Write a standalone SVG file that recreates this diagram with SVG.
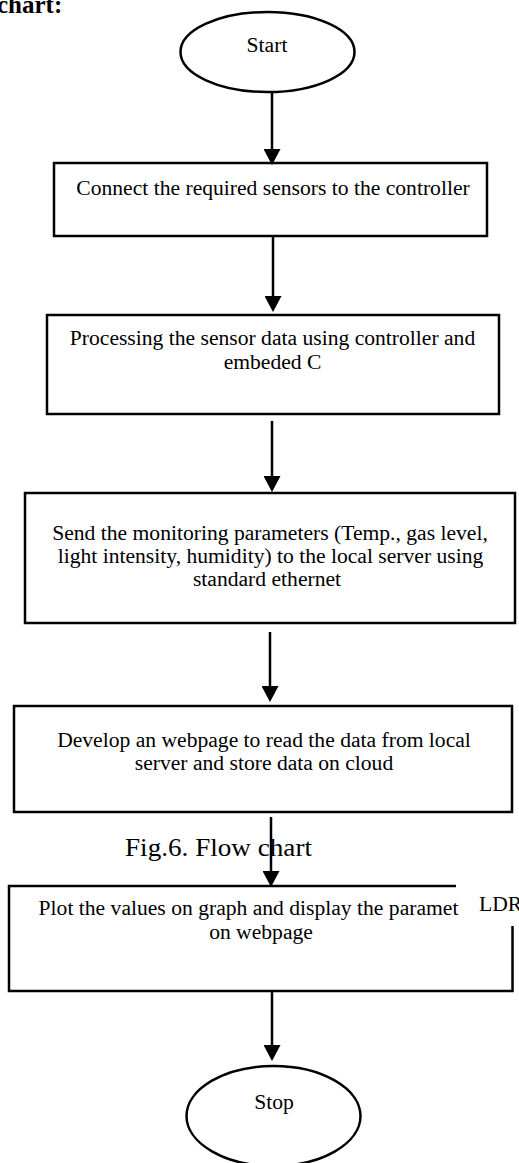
<svg xmlns="http://www.w3.org/2000/svg" width="519" height="1163" viewBox="0 0 519 1163">
  <style>
    .shape { fill: none; stroke: #000; stroke-width: 2.5; }
    .conn { fill: none; stroke: #000; stroke-width: 2.5; }
    .lbl { font-family: "Liberation Serif", "Times New Roman", serif; font-size: 21.6px; fill: #000; text-anchor: middle; }
    .cap { font-family: "Liberation Serif", "Times New Roman", serif; fill: #000; }
  </style>
  <defs>
    <marker id="ah" markerUnits="userSpaceOnUse" markerWidth="16" markerHeight="17" viewBox="0 0 16 17" refX="1" refY="8.5" orient="auto">
      <path d="M0,0 L16,8.5 L0,17 z" fill="#000"/>
    </marker>
  </defs>
  <rect width="519" height="1163" fill="#fff"/>

  <text class="cap" x="-3" y="13" font-size="25" font-weight="bold">chart:</text>
  <text class="cap" x="125" y="856" font-size="26" textLength="187" lengthAdjust="spacingAndGlyphs">Fig.6. Flow chart</text>

  <g id="start">
    <ellipse class="shape" cx="267.5" cy="52" rx="87" ry="40"/>
    <text class="lbl" x="267" y="52">Start</text>
  </g>

  <g id="connect">
    <rect class="shape" x="54" y="163" width="433" height="73"/>
    <text class="lbl" x="273" y="195">Connect the required sensors to the controller</text>
  </g>

  <g id="process">
    <rect class="shape" x="47" y="315" width="452" height="99"/>
    <text class="lbl" x="272.5" y="345">Processing the sensor data using controller and</text>
    <text class="lbl" x="272.5" y="369">embeded C</text>
  </g>

  <g id="send">
    <rect class="shape" x="25" y="493" width="490" height="130"/>
    <text class="lbl" x="270" y="540">Send the monitoring parameters (Temp., gas level,</text>
    <text class="lbl" x="270.5" y="563">light intensity, humidity) to the local server using</text>
    <text class="lbl" x="267" y="586">standard ethernet</text>
  </g>

  <g id="develop">
    <rect class="shape" x="14" y="706" width="498" height="106"/>
    <text class="lbl" x="264" y="747">Develop an webpage to read the data from local</text>
    <text class="lbl" x="264" y="770">server and store data on cloud</text>
  </g>

  <g id="plot">
    <path class="shape" d="M456,886 L9,886 L9,991 L512.5,991 L512.5,926"/>
    <text class="lbl" x="248.5" y="915">Plot the values on graph and display the paramet</text>
    <text class="lbl" x="261" y="939">on webpage</text>
    <text class="lbl" x="479" y="911" style="text-anchor:start">LDR</text>
  </g>

  <g id="stop">
    <ellipse class="shape" cx="273.5" cy="1116" rx="87" ry="50"/>
    <text class="lbl" x="274" y="1109">Stop</text>
  </g>

  <g id="connectors">
    <line class="conn" x1="272" y1="93" x2="272" y2="150" marker-end="url(#ah)"/>
    <line class="conn" x1="273" y1="237" x2="273" y2="297" marker-end="url(#ah)"/>
    <line class="conn" x1="272" y1="421" x2="272" y2="477" marker-end="url(#ah)"/>
    <line class="conn" x1="270" y1="632" x2="270" y2="687" marker-end="url(#ah)"/>
    <line class="conn" x1="271" y1="817" x2="271" y2="872" marker-end="url(#ah)"/>
    <line class="conn" x1="272" y1="992" x2="272" y2="1046" marker-end="url(#ah)"/>
  </g>
</svg>
